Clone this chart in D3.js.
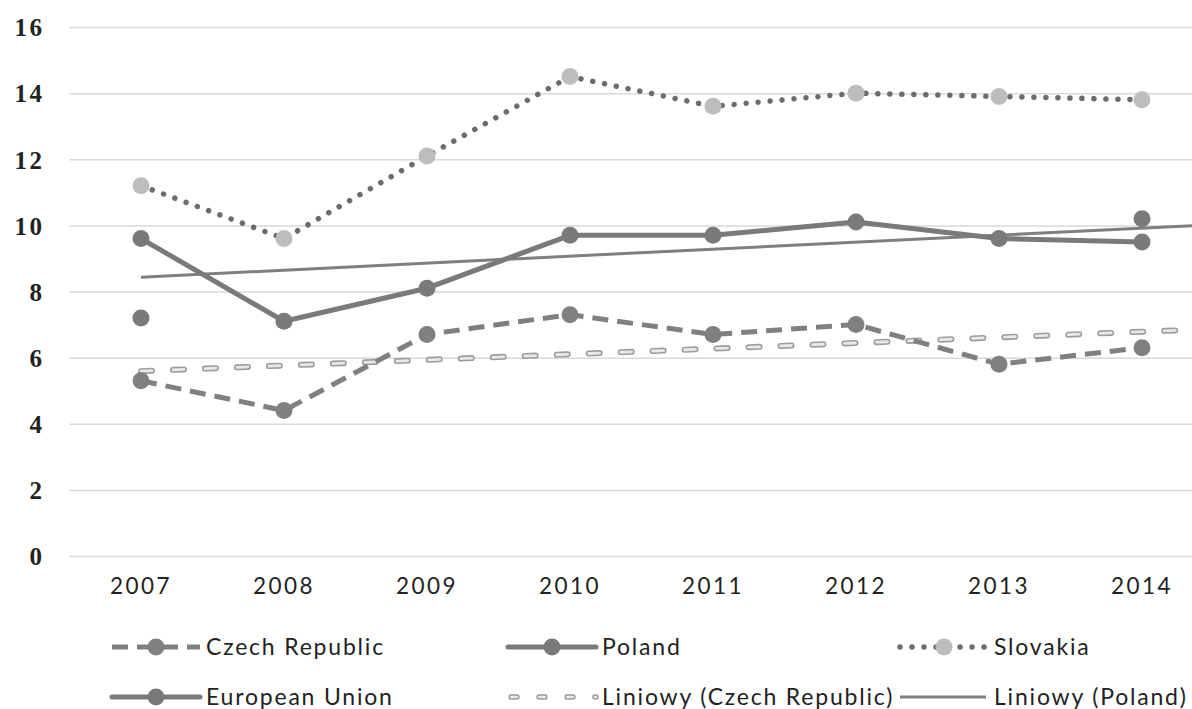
<!DOCTYPE html>
<html><head><meta charset="utf-8">
<script src="https://cdn.jsdelivr.net/npm/d3@7"></script>
<style>
html,body{margin:0;padding:0;background:#fff;overflow:hidden;}
svg{display:block;}
</style></head><body>
<svg id="chart" width="1192" height="709"></svg>
<script>
const years = ["2007","2008","2009","2010","2011","2012","2013","2014"];
const czech = [5.3, 4.4, 6.7, 7.3, 6.7, 7.0, 5.8, 6.3];
const poland = [9.6, 7.1, 8.1, 9.7, 9.7, 10.1, 9.6, 9.5];
const slovakia = [11.2, 9.6, 12.1, 14.5, 13.6, 14.0, 13.9, 13.8];
const eu = [7.2, null, null, null, null, null, null, 10.2];
const yTicks = [0, 2, 4, 6, 8, 10, 12, 14, 16];
const legendLabels = ["Czech Republic", "Poland", "Slovakia", "European Union", "Liniowy (Czech Republic)", "Liniowy (Poland)"];

const svg = d3.select("#chart");
const x = d3.scaleBand().domain(years).range([69.5, 1213.5]).padding(0);
const bw = x.bandwidth();
const cx = i => x(years[0]) + bw / 2 + i * x.step();   // index position (allows extrapolation)
const y = d3.scaleLinear().domain([0, 16]).range([556, 27]);

// gridlines + y labels
const yAxis = d3.axisLeft(y).tickValues(yTicks).tickSize(-(1213.5 - 69.5)).tickPadding(25).tickFormat(d3.format("d"));
const gy = svg.append("g").attr("transform", "translate(69.5,0)").call(yAxis);
gy.select(".domain").remove();
gy.selectAll(".tick line").attr("stroke", "#d9d9d9").attr("stroke-width", 1.5);
gy.selectAll(".tick text").attr("font-family", "'Liberation Serif', serif").attr("font-weight", "bold")
  .attr("font-size", 25).attr("letter-spacing", 2.5).attr("fill", "#222").attr("dy", "0.35em");

// x axis labels
const xAxis = d3.axisBottom(x).tickSize(0).tickPadding(22);
const gx = svg.append("g").attr("transform", "translate(0,556)").call(xAxis);
gx.select(".domain").remove();
gx.selectAll(".tick text").attr("font-family", "Lato, sans-serif").attr("font-size", 22.5)
  .attr("letter-spacing", 2.5).attr("fill", "#222");

// linear trend helper (least squares over the series)
function trend(vals) {
  const n = vals.length, xs = d3.range(n);
  const mx = d3.mean(xs), my = d3.mean(vals);
  const sxy = d3.sum(xs, i => (i - mx) * (vals[i] - my));
  const sxx = d3.sum(xs, i => (i - mx) * (i - mx));
  const b = sxy / sxx, a = my - b * mx;
  return [[0, a], [n - 0.5, a + b * (n - 0.5)]];
}
const tline = d3.line().x(d => cx(d[0])).y(d => y(d[1]));
const line = d3.line().defined(d => d != null).x((d, i) => cx(i)).y(d => y(d));

// trendlines
const tc = trend(czech), tp = trend(poland);
svg.append("path").attr("d", tline(tc)).attr("fill", "none").attr("stroke", "#9c9c9c")
  .attr("stroke-width", 6).attr("stroke-linecap", "round").attr("stroke-dasharray", "11 21");
svg.append("path").attr("d", tline(tc)).attr("fill", "none").attr("stroke", "#e8e8e8")
  .attr("stroke-width", 2.8).attr("stroke-linecap", "round").attr("stroke-dasharray", "11 21");
svg.append("path").attr("d", tline(tp)).attr("fill", "none").attr("stroke", "#7f7f7f").attr("stroke-width", 3);

// series
const styles = {
  czech: {stroke: "#808080", width: 5, dash: "16 9", cap: "butt", marker: "#808080"},
  poland: {stroke: "#7a7a7a", width: 5, dash: null, cap: "round", marker: "#7a7a7a"},
  slovakia: {stroke: "#6c6c6c", width: 5.5, dash: "0.01 12", cap: "round", marker: "#bdbdbd"},
  eu: {stroke: "#7a7a7a", width: 5, dash: null, cap: "round", marker: "#7a7a7a"}
};
function drawSeries(vals, s) {
  svg.append("path").attr("d", line(vals)).attr("fill", "none").attr("stroke", s.stroke)
    .attr("stroke-width", s.width).attr("stroke-linecap", s.cap).attr("stroke-linejoin", "round")
    .attr("stroke-dasharray", s.dash);
  svg.append("g").selectAll("circle").data(vals.map((v, i) => ({v, i})).filter(d => d.v != null))
    .join("circle").attr("cx", d => cx(d.i)).attr("cy", d => y(d.v)).attr("r", 8.5).attr("fill", s.marker);
}
drawSeries(czech, styles.czech);
drawSeries(poland, styles.poland);
drawSeries(slovakia, styles.slovakia);
drawSeries(eu, styles.eu);

// legend
const lg = svg.append("g");
const cols = [112, 508, 900], rows = [647, 697];
const symW = 88;
legendLabels.forEach((lab, k) => {
  const gx0 = cols[k % 3], gy0 = rows[Math.floor(k / 3)];
  const g = lg.append("g").attr("transform", `translate(${gx0},${gy0})`);
  const key = ["czech", "poland", "slovakia", "eu"][k];
  if (k < 4) {
    const s = styles[key];
    g.append("line").attr("x1", 0).attr("x2", symW).attr("y1", 0).attr("y2", 0)
      .attr("stroke", s.stroke).attr("stroke-width", s.width).attr("stroke-linecap", s.cap)
      .attr("stroke-dasharray", s.dash);
    g.append("circle").attr("cx", symW / 2).attr("cy", 0).attr("r", 8.5).attr("fill", s.marker);
  } else if (k === 4) {
    g.append("line").attr("x1", 3).attr("x2", symW).attr("y1", 0).attr("y2", 0).attr("stroke", "#9c9c9c")
      .attr("stroke-width", 5.5).attr("stroke-linecap", "round").attr("stroke-dasharray", "6 22");
    g.append("line").attr("x1", 3).attr("x2", symW).attr("y1", 0).attr("y2", 0).attr("stroke", "#e8e8e8")
      .attr("stroke-width", 2.5).attr("stroke-linecap", "round").attr("stroke-dasharray", "6 22");
  } else {
    g.append("line").attr("x1", 0).attr("x2", symW - 2).attr("y1", 0).attr("y2", 0)
      .attr("stroke", "#7f7f7f").attr("stroke-width", 3);
  }
  g.append("text").attr("x", symW + 6).attr("y", 0).attr("dy", "0.35em").text(lab)
    .attr("font-family", "Lato, sans-serif").attr("font-size", 23).attr("letter-spacing", 1.8).attr("fill", "#222");
});
</script>
</body></html>
